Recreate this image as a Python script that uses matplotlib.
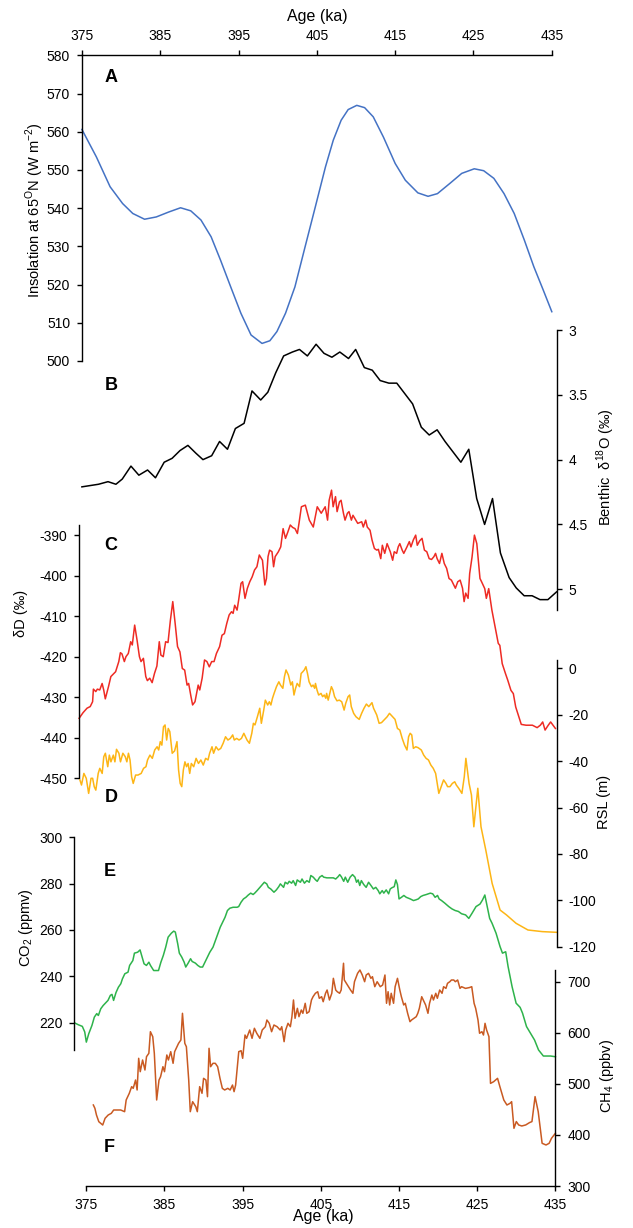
import matplotlib.pyplot as plt
from matplotlib.ticker import FormatStrFormatter

# ---- data (age in ka, value) ----
insolation = [(375.0, 560.6), (376.85, 553.4), (378.6, 545.6), (380.2, 541.2), (381.5, 538.6),
              (383.0, 537.1), (384.5, 537.7), (386.1, 539.0), (387.6, 540.1), (388.9, 539.3),
              (390.2, 536.9), (391.5, 532.5), (392.7, 526.4), (394.0, 519.4), (395.3, 512.5),
              (396.6, 506.8), (398.0, 504.6), (399.0, 505.3), (399.9, 507.7), (401.0, 512.5),
              (402.2, 519.4), (403.5, 529.9), (404.8, 540.3), (406.1, 550.8), (407.1, 557.8),
              (408.1, 563.0), (409.0, 565.8), (410.1, 566.9), (411.1, 566.3), (412.2, 563.9),
              (413.5, 558.6), (415.0, 551.7), (416.3, 547.3), (417.9, 544.0), (419.2, 543.1),
              (420.4, 543.8), (422.0, 546.5), (423.5, 549.1), (425.1, 550.3), (426.3, 549.8),
              (427.6, 547.8), (428.9, 543.8), (430.2, 538.6), (431.5, 531.6), (432.7, 524.7),
              (433.9, 518.6), (435.0, 512.9)]

benthic = [(375.0, 4.21), (377.1, 4.19), (378.3, 4.17), (379.3, 4.19), (380.1, 4.15), (381.2, 4.05),
           (382.2, 4.12), (383.3, 4.08), (384.3, 4.14), (385.4, 4.02), (386.4, 3.99), (387.4, 3.93),
           (388.4, 3.89), (389.4, 3.95), (390.3, 4.00), (391.4, 3.97), (392.4, 3.86), (393.4, 3.92),
           (394.4, 3.76), (395.5, 3.72), (396.5, 3.47), (397.6, 3.54), (398.5, 3.48), (399.5, 3.33),
           (400.5, 3.20), (401.6, 3.17), (402.5, 3.15), (403.5, 3.20), (404.6, 3.11), (405.6, 3.18),
           (406.6, 3.21), (407.6, 3.17), (408.7, 3.22), (409.6, 3.15), (410.7, 3.29), (411.7, 3.31),
           (412.7, 3.39), (413.8, 3.41), (414.8, 3.41), (415.8, 3.49), (416.8, 3.57), (417.9, 3.75),
           (418.9, 3.81), (419.9, 3.77), (420.9, 3.86), (421.9, 3.94), (422.9, 4.02), (423.9, 3.92),
           (424.9, 4.30), (425.9, 4.50), (426.9, 4.30), (427.9, 4.72), (429.0, 4.91), (429.9, 4.99),
           (430.9, 5.05), (431.9, 5.05), (432.9, 5.08), (433.9, 5.08), (435.0, 5.02)]

deuterium = [(375.0, -435.2), (375.5, -433.8), (376.0, -432.7), (376.4, -432.3), (376.7, -431.1),
             (376.8, -428.0), (377.1, -428.6), (377.3, -428.0), (377.6, -428.2), (377.9, -426.6),
             (378.1, -428.2), (378.3, -430.4), (378.7, -427.4), (379.0, -424.9), (379.3, -424.3),
             (379.6, -423.7), (380.0, -421.2), (380.2, -419.0), (380.4, -419.3), (380.7, -421.2),
             (380.9, -420.0), (381.2, -419.2), (381.5, -416.3), (381.7, -417.1), (382.0, -412.2),
             (382.3, -415.9), (382.6, -420.0), (382.8, -421.2), (383.1, -420.4), (383.4, -424.9),
             (383.6, -425.9), (383.9, -425.3), (384.2, -426.4), (384.5, -424.1), (384.8, -422.3),
             (385.1, -416.3), (385.3, -419.6), (385.6, -420.0), (385.9, -416.3), (386.2, -416.5),
             (386.5, -411.0), (386.8, -406.4), (387.1, -411.8), (387.4, -417.5), (387.7, -418.8),
             (388.0, -422.9), (388.3, -423.3), (388.6, -427.0), (388.8, -426.6), (389.1, -429.9),
             (389.3, -431.9), (389.6, -431.1), (390.0, -427.0), (390.2, -428.2), (390.5, -425.3),
             (390.8, -420.8), (391.1, -421.2), (391.4, -422.5), (391.7, -421.2), (392.0, -421.2),
             (392.3, -419.2), (392.7, -417.5), (393.0, -414.7), (393.3, -414.3), (393.6, -411.8),
             (393.9, -409.7), (394.2, -408.9), (394.4, -409.3), (394.6, -407.3), (394.9, -408.5),
             (395.1, -406.0), (395.4, -401.9), (395.6, -401.5), (395.9, -405.6), (396.2, -403.1),
             (396.5, -401.5), (396.8, -400.3), (397.1, -398.6), (397.4, -397.8), (397.7, -394.9),
             (398.1, -396.2), (398.4, -402.3), (398.6, -400.7), (398.8, -395.3), (399.0, -393.7),
             (399.3, -394.1), (399.5, -397.8), (399.7, -395.3), (400.1, -394.1), (400.4, -392.9),
             (400.7, -388.4), (401.0, -390.8), (401.3, -389.2), (401.6, -387.5), (401.9, -388.1),
             (402.2, -388.4), (402.5, -389.6), (402.7, -387.1), (403.0, -383.0), (403.5, -382.6),
             (404.0, -386.3), (404.5, -388.0), (405.0, -383.0), (405.5, -384.6), (406.0, -383.0),
             (406.3, -386.3), (406.5, -381.4), (406.8, -378.9), (407.0, -383.0), (407.3, -380.5),
             (407.5, -384.2), (407.8, -381.8), (408.0, -381.4), (408.3, -384.6), (408.5, -386.3),
             (408.8, -384.6), (409.0, -384.2), (409.3, -386.3), (409.5, -385.1), (410.1, -387.1),
             (410.6, -386.7), (410.8, -388.0), (411.1, -386.3), (411.3, -388.0), (411.65, -388.8),
             (411.9, -391.2), (412.2, -393.3), (412.5, -393.7), (412.7, -393.5), (413.0, -395.8),
             (413.2, -392.5), (413.5, -394.5), (413.8, -392.1), (414.2, -394.1), (414.5, -396.2),
             (414.7, -394.1), (415.0, -394.5), (415.2, -392.9), (415.4, -392.1), (415.7, -393.7),
             (415.9, -394.5), (416.3, -392.9), (416.6, -391.6), (416.8, -392.9), (417.1, -391.2),
             (417.4, -390.0), (417.6, -392.5), (417.9, -391.4), (418.2, -390.8), (418.5, -393.7),
             (418.8, -394.1), (419.1, -395.8), (419.4, -396.0), (419.7, -395.3), (419.9, -394.5),
             (420.1, -395.8), (420.4, -397.0), (420.7, -394.5), (421.0, -397.0), (421.3, -398.2),
             (421.6, -400.7), (421.9, -401.1), (422.2, -402.3), (422.4, -403.1), (422.7, -401.5),
             (423.0, -401.1), (423.3, -403.1), (423.5, -406.4), (423.7, -404.3), (424.0, -405.6),
             (424.2, -399.5), (424.5, -395.4), (424.8, -390.0), (425.1, -392.1), (425.5, -400.7),
             (425.7, -401.5), (426.1, -403.2), (426.3, -405.6), (426.6, -403.2), (427.0, -408.5),
             (427.4, -412.6), (427.8, -416.7), (428.0, -417.2), (428.3, -421.7), (428.7, -424.1),
             (429.0, -425.8), (429.4, -428.3), (429.7, -429.1), (430.0, -432.4), (430.4, -434.9),
             (430.7, -436.7), (431.3, -436.9), (432.1, -436.9), (432.7, -437.5), (433.1, -436.9),
             (433.4, -436.1), (433.7, -438.1), (434.1, -436.9), (434.4, -436.1), (434.7, -436.9),
             (435.0, -437.7)]

sea_level = [(375.1, -48.1), (375.3, -50.3), (375.6, -45.3), (375.9, -47.4), (376.2, -53.9),
             (376.5, -47.4), (376.7, -47.4), (376.9, -51.0), (377.1, -52.5), (377.4, -45.3),
             (377.6, -43.1), (377.9, -45.3), (378.1, -38.1), (378.3, -36.6), (378.6, -42.4),
             (378.8, -37.4), (379.0, -40.3), (379.3, -37.4), (379.5, -40.3), (379.7, -34.9),
             (380.0, -36.6), (380.2, -40.3), (380.5, -36.6), (380.8, -38.1), (381.0, -40.3),
             (381.2, -36.6), (381.4, -39.5), (381.6, -46.7), (381.8, -49.6), (382.1, -46.0),
             (382.4, -46.0), (382.8, -45.3), (383.1, -43.1), (383.4, -42.4), (383.6, -39.5),
             (383.9, -37.4), (384.2, -38.8), (384.5, -35.2), (384.8, -33.8), (385.0, -35.2),
             (385.2, -31.6), (385.4, -33.1), (385.6, -25.2), (385.8, -24.4), (386.0, -30.9),
             (386.2, -25.9), (386.4, -27.3), (386.7, -36.6), (387.0, -35.6), (387.3, -31.6),
             (387.5, -43.8), (387.7, -49.6), (387.9, -51.0), (388.1, -43.8), (388.3, -40.3),
             (388.5, -42.4), (388.7, -41.0), (388.9, -45.3), (389.1, -41.0), (389.4, -42.4),
             (389.7, -38.8), (390.0, -41.0), (390.3, -39.5), (390.6, -41.7), (390.9, -38.8),
             (391.2, -39.5), (391.4, -36.6), (391.7, -33.8), (391.9, -36.6), (392.2, -33.8),
             (392.5, -35.2), (392.8, -34.5), (393.1, -32.3), (393.4, -29.5), (393.7, -30.9),
             (394.0, -30.2), (394.3, -28.7), (394.5, -30.9), (394.8, -30.2), (395.1, -30.9),
             (395.4, -30.2), (395.7, -28.0), (395.9, -29.5), (396.1, -30.9), (396.4, -32.3),
             (396.7, -28.0), (396.9, -23.7), (397.1, -24.4), (397.4, -20.9), (397.7, -17.2),
             (397.9, -23.7), (398.2, -18.0), (398.4, -13.7), (398.7, -15.8), (398.9, -14.4),
             (399.1, -15.8), (399.3, -12.9), (399.5, -10.8), (399.8, -7.9), (400.1, -5.8),
             (400.3, -7.2), (400.6, -8.6), (400.8, -3.6), (401.0, -0.7), (401.3, -2.9),
             (401.6, -7.2), (401.8, -5.8), (402.0, -11.5), (402.2, -8.6), (402.4, -6.5),
             (402.7, -7.9), (402.9, -2.2), (403.1, -1.5), (403.3, -0.7), (403.5, 0.7),
             (403.7, -2.2), (403.9, -5.8), (404.2, -7.9), (404.4, -7.2), (404.6, -8.6),
             (404.7, -6.5), (404.9, -9.4), (405.1, -11.5), (405.4, -10.8), (405.6, -12.2),
             (405.8, -11.5), (406.0, -12.9), (406.1, -10.8), (406.3, -13.7), (406.5, -10.8),
             (406.7, -7.9), (406.9, -9.4), (407.1, -12.2), (407.4, -14.0), (407.7, -13.7),
             (408.0, -14.4), (408.3, -18.0), (408.5, -15.1), (408.8, -12.2), (409.0, -11.5),
             (409.2, -16.5), (409.5, -19.4), (409.8, -20.9), (410.2, -22.0), (410.5, -19.4),
             (410.8, -17.2), (411.1, -15.4), (411.4, -16.5), (411.8, -14.8), (412.0, -17.2),
             (412.4, -20.1), (412.7, -23.7), (413.0, -23.4), (413.3, -22.3), (413.7, -20.9),
             (414.0, -19.4), (414.4, -20.9), (414.7, -22.0), (415.0, -25.9), (415.3, -26.6),
             (415.6, -30.2), (415.9, -33.1), (416.2, -35.2), (416.4, -29.5), (416.6, -28.0),
             (416.8, -28.7), (417.0, -34.5), (417.3, -33.8), (417.6, -34.2), (418.0, -35.2),
             (418.3, -37.4), (418.6, -38.8), (418.9, -39.5), (419.2, -41.7), (419.5, -43.1),
             (419.8, -45.3), (420.0, -49.6), (420.2, -53.9), (420.5, -51.0), (420.8, -48.1),
             (421.1, -49.6), (421.3, -51.0), (421.6, -51.0), (421.9, -49.6), (422.2, -48.9),
             (422.4, -50.3), (422.7, -51.7), (423.1, -53.9), (423.4, -46.7), (423.6, -38.8),
             (424.0, -49.6), (424.3, -54.6), (424.6, -68.3), (425.1, -51.7), (425.5, -68.3),
             (426.1, -78.3), (426.9, -92.7), (427.9, -104.2), (428.7, -106.3), (429.9, -109.9),
             (431.4, -112.8), (433.2, -113.5), (435.0, -113.8)]

co2 = [(375.1, 219.8), (375.5, 219.1), (376.0, 218.4), (376.3, 216.0), (376.5, 211.6), (376.8, 215.2),
       (377.2, 218.8), (377.5, 222.4), (377.8, 223.9), (378.0, 223.1), (378.3, 226.0), (378.6, 227.4),
       (379.0, 228.9), (379.2, 229.6), (379.5, 231.8), (379.7, 232.2), (379.9, 229.6), (380.2, 233.0),
       (380.5, 235.3), (380.8, 236.8), (381.0, 238.9), (381.3, 241.1), (381.7, 241.8), (381.9, 244.7),
       (382.3, 246.8), (382.5, 250.0), (382.9, 250.4), (383.2, 251.4), (383.4, 249.0), (383.7, 245.4),
       (384.0, 244.7), (384.3, 246.1), (384.5, 244.7), (384.9, 242.5), (385.1, 242.5), (385.5, 242.5),
       (385.8, 246.1), (386.1, 249.0), (386.4, 252.6), (386.7, 256.9), (387.1, 258.6), (387.4, 259.5),
       (387.6, 259.1), (387.9, 254.0), (388.1, 250.0), (388.4, 248.3), (388.7, 246.1), (388.9, 244.0),
       (389.2, 245.7), (389.5, 247.6), (389.7, 246.4), (390.1, 245.7), (390.4, 244.7), (390.7, 244.0),
       (391.0, 244.0), (391.3, 246.1), (391.6, 248.3), (391.9, 250.4), (392.3, 252.6), (392.6, 255.5),
       (392.9, 258.3), (393.2, 261.2), (393.5, 263.4), (393.8, 265.5), (394.1, 268.4), (394.4, 269.4),
       (394.8, 269.8), (395.3, 269.8), (395.5, 270.1), (395.8, 272.0), (396.1, 273.4), (396.4, 274.1),
       (396.7, 275.1), (397.0, 275.9), (397.3, 275.3), (397.5, 275.9), (397.8, 277.0), (398.1, 278.2),
       (398.7, 280.6), (399.0, 279.9), (399.2, 278.4), (399.5, 277.7), (399.9, 276.3), (400.2, 277.3),
       (400.5, 278.7), (400.7, 279.9), (401.1, 278.4), (401.3, 280.6), (401.6, 279.9), (401.8, 281.0),
       (402.1, 280.2), (402.3, 281.3), (402.6, 279.2), (402.8, 281.6), (403.2, 280.6), (403.4, 282.0),
       (403.7, 280.2), (404.0, 281.3), (404.3, 280.6), (404.5, 283.5), (404.8, 282.8), (405.1, 281.6),
       (405.3, 281.0), (405.6, 282.8), (405.9, 283.5), (406.1, 282.8), (406.5, 282.5), (406.9, 282.5),
       (407.3, 282.5), (407.6, 282.0), (407.9, 283.0), (408.1, 283.9), (408.3, 283.0), (408.6, 281.0),
       (408.8, 282.8), (409.1, 280.6), (409.4, 282.8), (409.7, 283.9), (410.0, 282.8), (410.2, 280.6),
       (410.4, 281.6), (410.6, 279.2), (410.8, 281.3), (411.1, 279.6), (411.4, 278.4), (411.7, 280.6),
       (412.0, 279.2), (412.3, 277.7), (412.6, 278.4), (412.9, 277.0), (413.1, 275.6), (413.4, 277.0),
       (413.6, 275.9), (413.9, 277.3), (414.2, 275.6), (414.4, 277.7), (414.6, 278.2), (414.9, 278.7),
       (415.1, 281.6), (415.3, 279.6), (415.5, 273.4), (415.8, 274.1), (416.1, 274.9), (416.4, 274.1),
       (416.9, 273.4), (417.3, 272.7), (417.6, 273.0), (417.9, 273.4), (418.2, 274.4), (418.5, 274.9),
       (418.9, 275.3), (419.4, 275.9), (419.7, 275.6), (420.0, 274.1), (420.3, 274.9), (420.5, 273.4),
       (420.8, 272.7), (421.2, 271.6), (421.7, 270.1), (422.1, 269.1), (422.5, 268.4), (422.9, 268.0),
       (423.3, 267.0), (423.8, 266.5), (424.2, 265.0), (424.6, 267.2), (425.1, 270.1), (425.6, 271.2),
       (425.9, 272.9), (426.2, 275.1), (426.5, 270.1), (426.8, 265.0), (427.1, 262.9), (427.6, 258.6),
       (428.1, 252.8), (428.4, 250.0), (428.8, 250.6), (429.1, 244.2), (429.6, 235.5), (430.1, 228.4),
       (430.6, 226.6), (430.9, 224.1), (431.4, 218.3), (431.9, 215.4), (432.4, 212.5), (432.9, 208.2),
       (433.5, 205.6), (434.4, 205.6), (435.0, 205.3)]

ch4 = [(375.9, 458.6), (376.1, 452.1), (376.3, 439.0), (376.6, 425.9), (377.1, 419.4), (377.4, 432.5),
       (377.8, 439.0), (378.2, 442.3), (378.5, 448.8), (378.9, 448.8), (379.4, 448.8), (379.9, 445.5),
       (380.1, 468.4), (380.5, 481.5), (380.8, 494.5), (381.0, 491.2), (381.3, 507.5), (381.5, 488.0),
       (381.7, 550.0), (381.9, 523.8), (382.2, 546.7), (382.5, 527.1), (382.7, 553.2), (383.0, 559.8),
       (383.2, 602.1), (383.5, 592.3), (383.7, 559.8), (384.0, 468.4), (384.3, 507.5), (384.5, 514.0),
       (384.8, 533.6), (385.0, 523.8), (385.3, 556.5), (385.5, 546.7), (385.8, 563.0), (386.1, 540.2),
       (386.3, 563.0), (386.6, 572.7), (386.8, 579.3), (387.1, 585.9), (387.3, 638.1), (387.6, 579.3),
       (387.8, 572.7), (388.1, 507.5), (388.3, 445.5), (388.6, 465.1), (389.0, 455.3), (389.2, 445.5),
       (389.5, 494.5), (389.8, 481.5), (390.0, 510.8), (390.3, 507.5), (390.5, 474.9), (390.7, 569.6),
       (390.9, 533.6), (391.2, 540.2), (391.5, 540.2), (391.8, 533.6), (392.1, 510.8), (392.4, 491.2),
       (392.7, 488.0), (393.1, 491.2), (393.4, 488.0), (393.7, 497.7), (393.9, 484.7), (394.1, 497.7),
       (394.5, 563.0), (394.8, 564.9), (395.0, 550.0), (395.3, 595.6), (395.5, 589.1), (395.9, 605.4),
       (396.2, 589.1), (396.5, 608.8), (396.8, 599.0), (397.2, 589.1), (397.5, 605.4), (397.9, 611.9),
       (398.1, 625.0), (398.4, 618.5), (398.7, 602.1), (399.0, 615.2), (399.4, 611.9), (399.8, 605.4),
       (400.0, 611.9), (400.3, 582.6), (400.5, 605.4), (400.8, 618.5), (401.1, 611.9), (401.3, 631.5),
       (401.5, 664.2), (401.7, 628.3), (402.0, 647.9), (402.2, 631.5), (402.5, 644.6), (402.7, 638.1),
       (403.0, 657.7), (403.2, 638.1), (403.5, 641.3), (403.8, 664.2), (404.0, 670.6), (404.3, 677.3),
       (404.6, 680.4), (404.8, 667.5), (405.1, 670.6), (405.3, 660.8), (405.6, 677.3), (405.8, 683.7),
       (406.1, 664.2), (406.4, 677.3), (406.6, 706.6), (406.9, 683.7), (407.1, 680.4), (407.4, 677.3),
       (407.6, 683.7), (407.9, 736.1), (408.0, 703.3), (408.4, 693.5), (408.8, 683.7), (409.1, 677.3),
       (409.3, 700.0), (409.7, 716.4), (410.0, 722.9), (410.3, 713.1), (410.6, 700.0), (410.8, 713.1),
       (411.1, 716.4), (411.4, 706.6), (411.6, 709.8), (411.9, 690.2), (412.2, 700.0), (412.6, 690.2),
       (412.9, 693.5), (413.2, 713.1), (413.4, 657.7), (413.6, 680.4), (413.8, 654.4), (414.0, 677.3),
       (414.3, 657.7), (414.5, 690.2), (414.8, 706.6), (415.1, 683.7), (415.3, 670.6), (415.6, 654.4),
       (415.8, 657.7), (416.1, 638.1), (416.4, 621.7), (416.6, 625.0), (416.9, 628.3), (417.2, 631.5),
       (417.4, 638.1), (417.6, 647.9), (417.9, 670.6), (418.2, 660.8), (418.4, 654.4), (418.7, 638.1),
       (418.9, 657.7), (419.2, 673.9), (419.4, 664.2), (419.7, 677.3), (419.9, 667.5), (420.2, 683.7),
       (420.5, 677.3), (420.7, 690.2), (421.0, 686.9), (421.2, 696.8), (421.5, 700.0), (421.7, 703.3),
       (422.0, 703.3), (422.2, 700.0), (422.5, 703.3), (422.8, 686.9), (423.0, 690.2), (423.5, 686.9),
       (424.0, 688.5), (424.3, 690.2), (424.6, 657.7), (424.8, 647.9), (425.1, 625.0), (425.3, 599.0),
       (425.6, 602.1), (425.8, 595.6), (426.0, 618.5), (426.2, 605.4), (426.5, 592.3), (426.7, 500.9),
       (427.1, 504.2), (427.6, 510.8), (427.9, 494.5), (428.4, 468.4), (428.8, 458.6), (429.2, 461.9),
       (429.4, 465.1), (429.7, 413.0), (430.0, 426.1), (430.3, 419.5), (430.7, 417.5), (431.2, 419.5),
       (431.7, 424.2), (432.0, 426.1), (432.4, 475.0), (432.8, 445.7), (433.3, 383.6), (433.8, 380.3),
       (434.2, 383.6), (434.5, 393.4), (435.0, 403.2)]

age_ticks = [375, 385, 395, 405, 415, 425, 435]

plt.rcParams["font.family"] = ["Liberation Sans", "DejaVu Sans"]
plt.rcParams["mathtext.fontset"] = "custom"
plt.rcParams["mathtext.rm"] = "Liberation Sans"
plt.rcParams["axes.unicode_minus"] = False

W, H = 633, 1228
fig = plt.figure(figsize=(W / 100, H / 100), dpi=100)


def panel(l, r, t, b):
    # axes placed by pixel box (left, right, top, bottom)
    ax = fig.add_axes([l / W, 1 - b / H, (r - l) / W, (b - t) / H])
    ax.patch.set_visible(False)
    for s in ax.spines.values():
        s.set_visible(False)
        s.set_linewidth(1.0)
    ax.set_xlim(375, 435)
    ax.tick_params(axis="both", labelsize=10, length=3.5, width=1.0, pad=5, direction="out")
    ax.tick_params(axis="x", bottom=False, top=False, labelbottom=False, labeltop=False)
    ax.tick_params(axis="y", left=False, right=False, labelleft=False, labelright=False)
    return ax


def left_axis(ax):
    ax.spines["left"].set_visible(True)
    ax.tick_params(axis="y", left=True, labelleft=True)


def right_axis(ax):
    ax.spines["right"].set_visible(True)
    ax.tick_params(axis="y", right=True, labelright=True)


def draw(ax, pts, color):
    xs = [p[0] for p in pts]
    ys = [p[1] for p in pts]
    ax.plot(xs, ys, color=color, lw=1.1, clip_on=False)


# A insolation
axA = panel(81.9, 551.8, 55.3, 361)
axA.set_ylim(500, 580)
left_axis(axA)
axA.spines["top"].set_visible(True)
axA.tick_params(axis="x", top=True, labeltop=True)
axA.set_xticks(age_ticks)
axA.set_yticks(range(500, 581, 10))
draw(axA, insolation, "#4472C4")

# B benthic d18O
axB = panel(81.9, 556.6, 330, 610)
axB.set_ylim(5.16, 3)
right_axis(axB)
axB.set_yticks([3, 3.5, 4, 4.5, 5])
axB.yaxis.set_major_formatter(FormatStrFormatter("%g"))
draw(axB, benthic, "black")

# C deuterium
axC = panel(79.1, 555.4, 525, 778.3)
axC.set_ylim(-450, -387.5)
left_axis(axC)
axC.set_yticks(range(-450, -389, 10))
draw(axC, deuterium, "#EE2B24")

# D relative sea level
axD = panel(79.1, 556.6, 660, 946.7)
axD.set_ylim(-120, 3.6)
right_axis(axD)
axD.set_yticks(range(-120, 1, 20))
draw(axD, sea_level, "#FDB515")

# E CO2
axE = panel(74.3, 555.4, 837.3, 1050)
axE.set_ylim(208.2, 300)
left_axis(axE)
axE.set_yticks(range(220, 301, 20))
draw(axE, co2, "#2EB34B")

# F CH4
axF = panel(86.3, 555.4, 970, 1186)
axF.set_ylim(300, 722.9)
right_axis(axF)
axF.spines["bottom"].set_visible(True)
axF.tick_params(axis="x", bottom=True, labelbottom=True)
axF.set_xticks(age_ticks)
axF.set_yticks(range(300, 701, 100))
draw(axF, ch4, "#C95A22")

# panel letters
for letter, x, y in [("A", 111, 78), ("B", 111, 386), ("C", 111, 545),
                     ("D", 111, 797), ("E", 110, 871), ("F", 109, 1147)]:
    fig.text(x / W, 1 - y / H, letter, fontsize=13, fontweight="bold",
             ha="center", va="center")

# axis titles
fig.text(317 / W, 1 - 17 / H, "Age (ka)", fontsize=11.5, ha="center", va="center")
fig.text(323 / W, 1 - 1217 / H, "Age (ka)", fontsize=11.5, ha="center", va="center")
ylabels = [
    (35, 210, "Insolation at 65$^{\\mathregular{O}}$N (W m$^{\\mathregular{-2}}$)"),
    (606, 467, "Benthic  δ$^{\\mathregular{18}}$O (‰)"),
    (21, 613, "δD (‰)"),
    (604, 802, "RSL (m)"),
    (26, 928, "CO$_{\\mathregular{2}}$ (ppmv)"),
    (607, 1076, "CH$_{\\mathregular{4}}$ (ppbv)"),
]
for x, y, label in ylabels:
    fig.text(x / W, 1 - y / H, label, fontsize=10.5, rotation=90,
             ha="center", va="center")

fig.savefig("out.png", dpi=100)
